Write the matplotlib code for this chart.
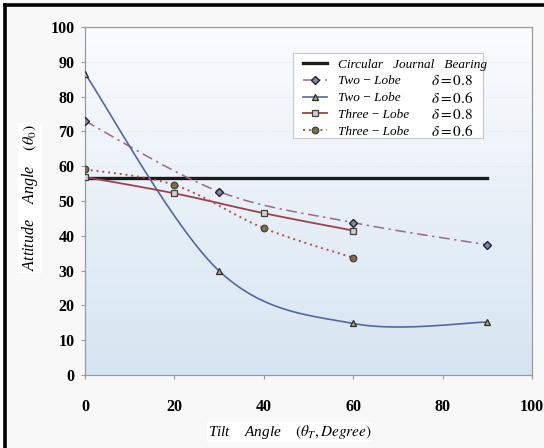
import numpy as np
import matplotlib
matplotlib.use("Agg")
import matplotlib.pyplot as plt
from matplotlib.colors import LinearSegmentedColormap
from matplotlib.patches import Rectangle
from matplotlib.lines import Line2D

plt.rcParams['font.family'] = ['Liberation Serif', 'DejaVu Serif']
plt.rcParams['mathtext.fontset'] = 'stix'

# data
circ_x = [0, 90]
circ_y = [56.5, 56.5]
two08_x = [0, 30, 60, 90]
two08_y = [73.0, 52.7, 43.8, 37.4]
two06_x = [0, 30, 60, 90]
two06_y = [86.6, 29.9, 14.8, 15.2]
three08_x = [0, 20, 40, 60]
three08_y = [56.9, 52.2, 46.5, 41.5]
three06_x = [0, 20, 40, 60]
three06_y = [59.1, 54.6, 42.2, 33.7]

xticks = [0, 20, 40, 60, 80, 100]
yticks = [0, 10, 20, 30, 40, 50, 60, 70, 80, 90, 100]


def smooth(xs, ys, n=40):
    # excel style smoothed line (bezier through the points)
    p = np.column_stack([xs, ys]).astype(float)
    m = len(p)
    out = []
    for i in range(m - 1):
        p0 = p[i - 1] if i > 0 else p[i]
        p3 = p[i + 2] if i + 2 < m else p[i + 1]
        c1 = p[i] + (p[i + 1] - p0) / 6
        c2 = p[i + 1] - (p3 - p[i]) / 6
        t = np.linspace(0, 1, n + 1)[:, None]
        if i < m - 2:
            t = t[:-1]
        seg = ((1 - t) ** 3) * p[i] + 3 * t * (1 - t) ** 2 * c1 + 3 * t ** 2 * (1 - t) * c2 + t ** 3 * p[i + 1]
        out.append(seg)
    c = np.vstack(out)
    return c[:, 0], c[:, 1], [k * n for k in range(m)]


W, H = 544, 448
fig = plt.figure(figsize=(W / 100, H / 100), dpi=100)
fig.patch.set_facecolor('white')
# cropped frame: only the left and top edges of the black border are visible
fig.patches.append(Rectangle((5 / W, 0), 1, 1 - 5 / H, transform=fig.transFigure,
                             facecolor='#f8f8f8', edgecolor='none', zorder=-10))
fig.lines.append(Line2D([5 / W, 5 / W], [0, 1 - 5 / H], transform=fig.transFigure,
                        color='black', lw=2.6, solid_capstyle='projecting', zorder=-9))
fig.lines.append(Line2D([5 / W, 1], [1 - 5 / H, 1 - 5 / H], transform=fig.transFigure,
                        color='black', lw=2.6, solid_capstyle='projecting', zorder=-9))

ax = fig.add_axes([85 / W, 1 - 375 / H, (532 - 85) / W, (375 - 27) / H])
ax.set_zorder(1)
grad = np.linspace(1, 0, 256)[:, None]
cmap = LinearSegmentedColormap.from_list('bg', ['#d6e5f2', '#fbfcfe'])
ax.imshow(grad, extent=[0, 100, 0, 100], aspect='auto', cmap=cmap, zorder=0)
for yv in yticks[1:-1]:
    ax.axhline(yv, color='#e2e8ef', lw=0.6, ls=(0, (2, 2)), zorder=1)

ax.plot(circ_x, circ_y, color='#1a1a1a', lw=2.4, zorder=3, label=r'Circular   Journal   Bearing')

sx, sy, mk = smooth(two08_x, two08_y)
ax.plot(sx, sy, color='#9a6888', lw=1.1, ls=(0, (7, 3, 1.5, 3)), marker='D', markevery=mk,
        ms=4.2, mfc='#8088a8', mec='#22222e', mew=1.0, zorder=4, label='Two\u2009−\u2009Lobe')
sx, sy, mk = smooth(two06_x, two06_y)
ax.plot(sx, sy, color='#5566a0', lw=1.2, marker='^', markevery=mk,
        ms=4.8, mfc='#b0a870', mec='#2a2a2a', mew=0.9, zorder=4, label='Two\u2009−\u2009Lobe')
sx, sy, mk = smooth(three08_x, three08_y)
ax.plot(sx, sy, color='#a04048', lw=1.3, marker='s', markevery=mk,
        ms=4.8, mfc='#d0d0d0', mec='#404040', mew=0.9, zorder=4, label='Three\u2009−\u2009Lobe')
sx, sy, mk = smooth(three06_x, three06_y)
ax.plot(sx, sy, color='#c04848', lw=1.4, ls=(0, (1, 2)), marker='o', markevery=mk,
        ms=4.8, mfc='#7a7048', mec='#383838', mew=0.8, zorder=4, label='Three\u2009−\u2009Lobe')

ax.set_xlim(0, 100)
ax.set_ylim(0, 100)
ax.set_xticks(xticks)
ax.set_yticks(yticks)
for s in ax.spines.values():
    s.set_color('#9a9a9a')
    s.set_linewidth(0.9)
ax.tick_params(axis='both', direction='out', length=3, color='#9a9a9a', labelsize=11.5)
ax.tick_params(axis='y', pad=4.5)
ax.tick_params(axis='x', pad=14)
for t in ax.get_xticklabels() + ax.get_yticklabels():
    t.set_fontweight('bold')

fig.text(290 / W, 1 - 432 / H, r'Tilt    Angle    $(\theta_T, Degree)$', ha='center', va='center',
         fontsize=11, style='italic', bbox=dict(facecolor='white', edgecolor='none', pad=1))
fig.text(30 / W, 1 - 198 / H, r'Attitude    Angle    $(\theta_0)$', ha='center', va='center',
         rotation=90, fontsize=11.5, style='italic', bbox=dict(facecolor='white', edgecolor='none', pad=1.5))

leg = ax.legend(loc='upper left', bbox_to_anchor=(298 / W, 1 - 53 / H), bbox_transform=fig.transFigure,
                frameon=False, handlelength=1.8, handletextpad=0.8, labelspacing=0.35,
                borderaxespad=0, numpoints=1, prop={'style': 'italic', 'size': 9.5})
leg.set_zorder(6)
ax.add_patch(Rectangle((293 / W, 1 - 138 / H), 190 / W, 85 / H, transform=fig.transFigure,
                       facecolor='white', edgecolor='#c8c8c8', linewidth=0.8, zorder=5, clip_on=False))

fig.canvas.draw()
r = fig.canvas.get_renderer()
deltas = ['0.8', '0.6', '0.8', '0.6']
for txt, d in zip(leg.get_texts()[1:], deltas):
    bb = txt.get_window_extent(r)
    yc = (bb.y0 + bb.y1) / 2
    fig.text(431 / W, yc / fig.bbox.height, r'$\delta = ' + d + '$', ha='left', va='center',
             fontsize=11, zorder=7)

fig.savefig('out.png', dpi=100)
